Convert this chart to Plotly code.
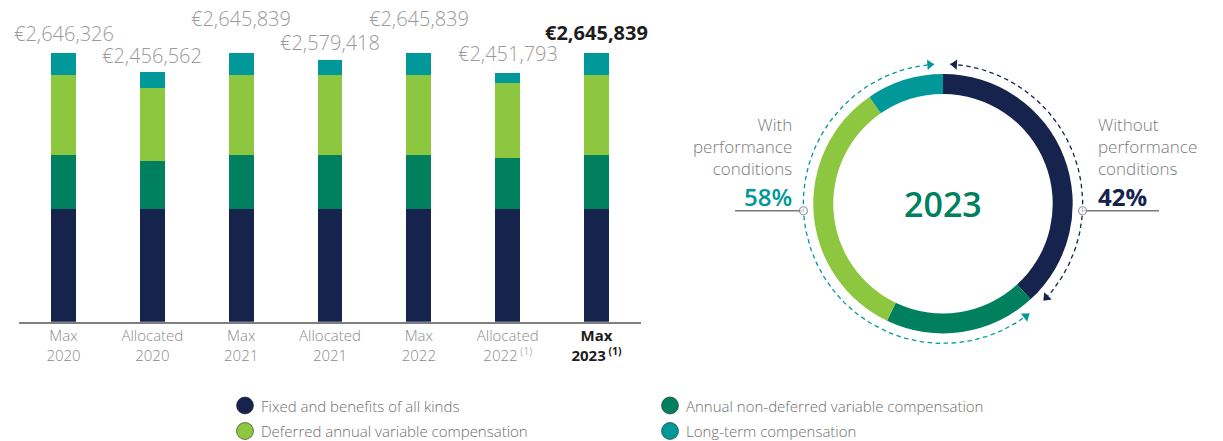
import math
import plotly.graph_objects as go

# ---- data -------------------------------------------------------------
kind = ["Max", "Allocated", "Max", "Allocated", "Max", "Allocated", "Max"]
year = ["2020", "2020", "2021", "2021", "2022", "2022", "2023"]
note = ["", "", "", "", "", "(1)", "(1)"]

fixed = [1110000, 1110000, 1110000, 1110000, 1110000, 1110000, 1110000]
annual = [532000, 472000, 532000, 532000, 532000, 502000, 532000]
deferred = [788000, 718000, 788000, 788000, 788000, 739000, 788000]
long_term = [216326, 156562, 215839, 149418, 215839, 100793, 215839]

series_names = ["Fixed and benefits of all kinds",
                "Annual non-deferred variable compensation",
                "Deferred annual variable compensation",
                "Long-term compensation"]
series_colors = ["#15234d", "#00805e", "#8dc63f", "#009898"]

# 2023 split as drawn in the ring (%), same order as the series
ring_share = [38.2, 18.9, 33.3, 9.6]
ring_year = "2023"
share_with = 58
share_without = 42

# ---- layout helpers ---------------------------------------------------
W, H = 1223, 441
FONT = "Open Sans"
GREY = "#9a9a9a"
DARK = "#1d1d1d"

categories = [k + " " + y for k, y in zip(kind, year)]
series = [fixed, annual, deferred, long_term]
totals = [sum(v) for v in zip(*series)]
highlight = [k == "Max" and y == ring_year for k, y in zip(kind, year)]

base_px = 321.7          # pixel row of the bar baseline
top_px = 53              # pixel row of the tallest bar top
ymax = max(totals) * base_px / (base_px - top_px)

fig = go.Figure()

for name, vals, col in zip(series_names, series, series_colors):
    fig.add_trace(go.Bar(x=categories, y=vals, name=name, marker_color=col,
                         marker_line_width=0, width=0.281, showlegend=False))

# ---- ring ---------------------------------------------------------------
cx, cy, r_out = 943, 203.7, 129.7
fig.add_trace(go.Pie(values=ring_share, labels=series_names, sort=False,
                     direction="clockwise", rotation=0, hole=0.846,
                     marker=dict(colors=series_colors, line=dict(width=0)),
                     textinfo="none", textposition="none", showlegend=False,
                     domain=dict(x=[(cx - r_out) / W, (cx + r_out) / W],
                                 y=[1 - (cy + r_out) / H, 1 - (cy - r_out) / H])))

# dashed arcs around the ring, split where the fixed part ends
r_d = 139.7
split = ring_share[0] / sum(ring_share) * 360


def pt(a, r=r_d):
    t = math.radians(a)
    return cx + r * math.sin(t), cy - r * math.cos(t)


def arc(a0, a1, col):
    n = 160
    angs = [a0 + (a1 - a0) * i / n for i in range(n + 1)]
    xs, ys = zip(*[pt(a) for a in angs])
    fig.add_trace(go.Scatter(x=xs, y=ys, mode="lines", xaxis="x2", yaxis="y2",
                             line=dict(color=col, width=1.3, dash="4.5px,3.5px"),
                             hoverinfo="skip", showlegend=False))
    # arrowheads at both ends
    h0 = pt(a0 + 1.8)
    h1 = pt(a1 - 1.8)
    fig.add_trace(go.Scatter(x=[h0[0], h1[0]], y=[h0[1], h1[1]], mode="markers",
                             xaxis="x2", yaxis="y2",
                             marker=dict(symbol="triangle-up", size=9, color=col,
                                         angle=[a0 - 90, a1 + 90]),
                             hoverinfo="skip", showlegend=False))


arc(3.0, split - 3.5, series_colors[0])
arc(split + 4.3, 356.3, "#009898")

# leader lines with hollow dots
for a, x_end in [(267.1, 735), (92.9, 1159)]:
    px, py = pt(a)
    fig.add_trace(go.Scatter(x=[x_end, px], y=[py, py], mode="lines+markers",
                             xaxis="x2", yaxis="y2",
                             line=dict(color="#7a7a7a", width=1.3),
                             marker=dict(size=[0, 8], color="white",
                                         line=dict(color="#7a7a7a", width=1.2)),
                             hoverinfo="skip", showlegend=False))

# ---- key (two columns, round swatches) ----------------------------------
key_x = [245, 670, 245, 670]
key_y = [405.5, 405.5, 431, 431]
fig.add_trace(go.Scatter(x=key_x, y=key_y, mode="markers", xaxis="x2", yaxis="y2",
                         marker=dict(size=17, color=series_colors,
                                     line=dict(width=1, color="rgba(30,30,30,0.55)")),
                         hoverinfo="skip", showlegend=False))

# ---- tick labels ------------------------------------------------------
ticktext = []
for k, y, n, hl in zip(kind, year, note, highlight):
    line2 = y + ("<sup> " + n + "</sup>" if n else "")
    if hl:
        span = "<b><span style='color:%s'>%s</span></b>"
        txt = span % (DARK, k) + "<br>" + span % (DARK, line2)
    else:
        txt = k + "<br>" + line2
    ticktext.append(txt)

# ---- annotations ------------------------------------------------------
ann = []
label_lift = [4, 1, 19, 2, 19, 4, 5]
for c, t, hl, lift in zip(categories, totals, highlight, label_lift):
    ann.append(dict(x=c, y=t, xref="x", yref="y", yanchor="bottom", yshift=lift,
                    showarrow=False, text="€{:,}".format(t),
                    font=dict(family=FONT, size=20,
                              color=DARK if hl else GREY,
                              weight=700 if hl else 300)))

for name, kx, ky in zip(series_names, key_x, key_y):
    ann.append(dict(x=kx + 14, y=ky, xref="x2", yref="y2", xanchor="left",
                    yanchor="middle", showarrow=False, text=name,
                    font=dict(family=FONT, size=15, color="#6e6e6e", weight=300)))

side_font = dict(family=FONT, size=17, color="#7a7a7a", weight=300)
ann += [
    dict(x=794.3, y=146, xref="x2", yref="y2", xanchor="right", align="right",
         showarrow=False, text="With<br>performance<br>conditions", font=side_font),
    dict(x=1096, y=146, xref="x2", yref="y2", xanchor="left", align="left",
         showarrow=False, text="Without<br>performance<br>conditions", font=side_font),
    dict(x=794.3, y=196.5, xref="x2", yref="y2", xanchor="right", showarrow=False,
         text=f"{share_with}%",
         font=dict(family=FONT, size=24, color="#009898", weight=600)),
    dict(x=1096, y=196.5, xref="x2", yref="y2", xanchor="left", showarrow=False,
         text=f"{share_without}%",
         font=dict(family=FONT, size=24, color=series_colors[0], weight=700)),
    dict(x=cx, y=cy, xref="x2", yref="y2", showarrow=False, text=ring_year,
         font=dict(family=FONT, size=34, color="#00805e", weight=600)),
]

fig.update_layout(
    width=W, height=H,
    margin=dict(l=0, r=0, t=0, b=0, pad=0),
    paper_bgcolor="white", plot_bgcolor="rgba(0,0,0,0)",
    barmode="stack", showlegend=False,
    font=dict(family=FONT),
    xaxis=dict(domain=[19.1 / W, 640.9 / W], range=[-0.5, 6.5], showline=True,
               linecolor="#7f7f7f", linewidth=1.5,
               tickmode="array", tickvals=categories, ticktext=ticktext,
               tickfont=dict(family=FONT, size=15, color="#8a8a8a", weight=300),
               ticks="", ticklabelstandoff=0, automargin=False,
               showgrid=False, zeroline=False, fixedrange=True),
    yaxis=dict(domain=[1 - base_px / H, 1], range=[0, ymax], visible=False,
               showgrid=False, zeroline=False, fixedrange=True),
    xaxis2=dict(domain=[0, 1], range=[0, W], visible=False, anchor="y2",
                fixedrange=True),
    yaxis2=dict(domain=[0, 1], range=[H, 0], visible=False, anchor="x2",
                fixedrange=True),
    annotations=ann,
)

fig.write_html("out.html", config={"displayModeBar": False},
               post_script="document.body.style.margin='0';"
                           "document.documentElement.style.overflow='hidden';")
